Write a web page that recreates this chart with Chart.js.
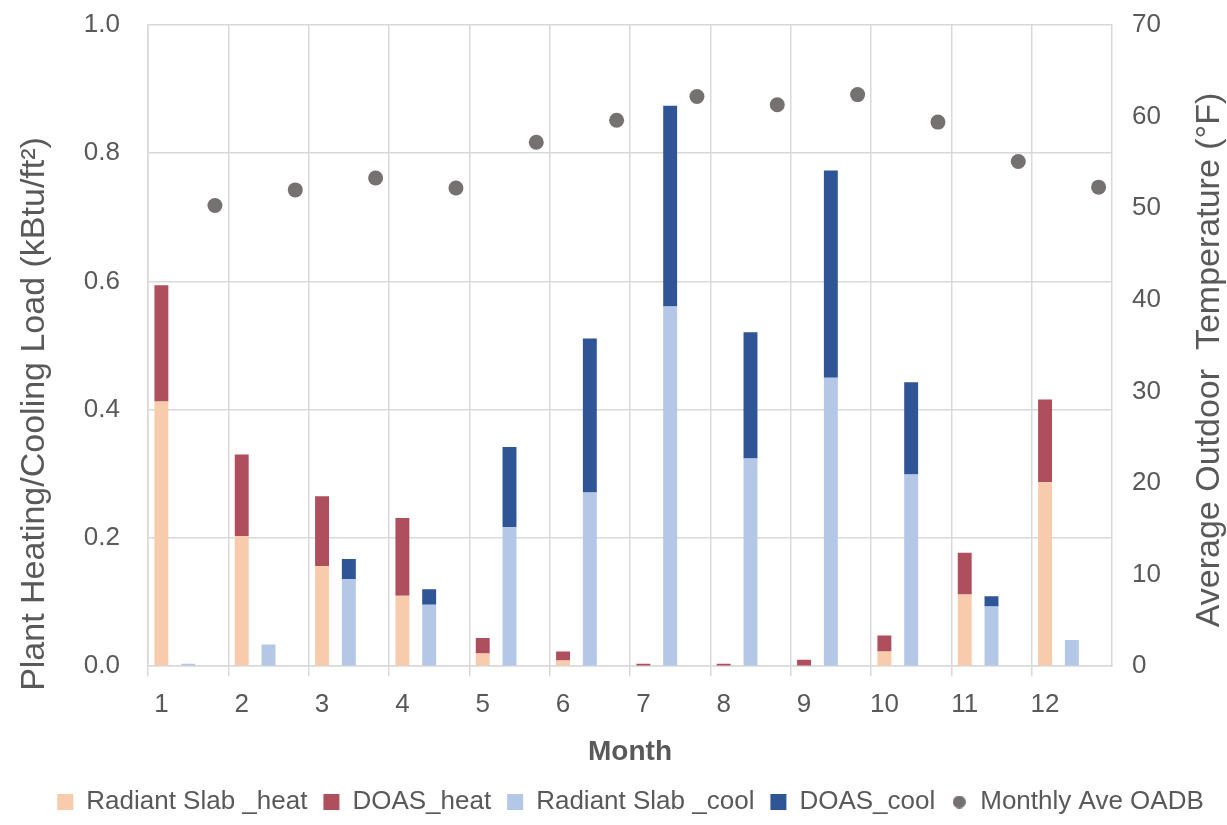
<!DOCTYPE html>
<html>
<head>
<meta charset="utf-8">
<script src="https://cdn.jsdelivr.net/npm/chart.js@4"></script>
<style>
  html, body { margin: 0; padding: 0; background: #fff; }
  #wrap { width: 1227px; height: 825px; }
</style>
</head>
<body>
<div id="wrap"><canvas id="chart" width="1227" height="825"></canvas></div>
<script>
// monthly values
const months = ["1", "2", "3", "4", "5", "6", "7", "8", "9", "10", "11", "12"];
const slabHeat = [0.413, 0.203, 0.156, 0.110, 0.020, 0.009, 0.001, 0.001, 0.001, 0.023, 0.112, 0.287];
const doasHeat = [0.181, 0.127, 0.109, 0.121, 0.024, 0.014, 0.003, 0.003, 0.009, 0.025, 0.065, 0.129];
const slabCool = [0.004, 0.034, 0.136, 0.096, 0.217, 0.271, 0.561, 0.324, 0.450, 0.299, 0.093, 0.041];
const doasCool = [0.000, 0.000, 0.031, 0.024, 0.125, 0.240, 0.313, 0.197, 0.323, 0.144, 0.016, 0.000];
const oadb = [50.3, 52.0, 53.3, 52.2, 57.2, 59.6, 62.2, 61.3, 62.4, 59.4, 55.1, 52.3];
const leftTicks = [0, 0.2, 0.4, 0.6, 0.8, 1.0];
const rightTicks = [0, 10, 20, 30, 40, 50, 60, 70];

const leftTitle = "Plant Heating/Cooling Load (kBtu/ft\u00B2)";
const rightTitle = "Average Outdoor  Temperature (\u00B0F)";

const FONT = "'Liberation Sans', Arial, sans-serif";
const TEXT = "#595959";
const GRID = "#d9d9d9";
const PAD_LEFT = 34;

// each month gets three slots: heating bar, cooling bar, temperature dot
const labels = [];
months.forEach(m => labels.push(m, "", ""));

function slot(values, pos) {
    const out = new Array(months.length * 3).fill(null);
    values.forEach((v, i) => { out[i * 3 + pos] = v; });
    return out;
}

// small round marker for the OADB legend entry
const dot = document.createElement("canvas");
dot.width = 13;
dot.height = 13;
const dctx = dot.getContext("2d");
dctx.fillStyle = "#767171";
dctx.beginPath();
dctx.arc(6.5, 6.5, 6.5, 0, Math.PI * 2);
dctx.fill();

// axis titles drawn reading bottom-to-top on both sides
const axisTitles = {
    id: "axisTitles",
    afterDraw(chart) {
        const ctx = chart.ctx;
        const area = chart.chartArea;
        ctx.save();
        ctx.fillStyle = TEXT;
        ctx.font = "34px " + FONT;
        ctx.textAlign = "center";
        ctx.textBaseline = "middle";

        ctx.save();
        ctx.translate(35, area.top + 389);
        ctx.rotate(-Math.PI / 2);
        ctx.fillText(leftTitle, 0, 0);
        ctx.restore();

        ctx.save();
        ctx.translate(1210, area.top + 335);
        ctx.rotate(-Math.PI / 2);
        ctx.fillText(rightTitle, 0, 0);
        ctx.restore();

        ctx.restore();
    }
};

const gridEvery3 = c => (c.index % 3 === 0 ? GRID : "rgba(0,0,0,0)");
const noPad = s => { s.paddingTop = 0; s.paddingBottom = 0; };

const ctx = document.getElementById("chart").getContext("2d");
new Chart(ctx, {
    type: "bar",
    data: {
        labels: labels,
        datasets: [
            { label: "Radiant Slab _heat", data: slot(slabHeat, 0), backgroundColor: "#f8cbad", stack: "s", yAxisID: "y" },
            { label: "DOAS_heat", data: slot(doasHeat, 0), backgroundColor: "#af4e5d", stack: "s", yAxisID: "y" },
            { label: "Radiant Slab _cool", data: slot(slabCool, 1), backgroundColor: "#b4c7e7", stack: "s", yAxisID: "y" },
            { label: "DOAS_cool", data: slot(doasCool, 1), backgroundColor: "#2f5597", stack: "s", yAxisID: "y" },
            {
                type: "line",
                label: "Monthly Ave OADB",
                data: slot(oadb, 2),
                yAxisID: "y2",
                showLine: false,
                pointRadius: 7.5,
                pointHoverRadius: 7.5,
                pointBackgroundColor: "#767171",
                pointBorderWidth: 0,
                backgroundColor: "#767171",
                borderColor: "#767171"
            }
        ]
    },
    options: {
        responsive: false,
        animation: false,
        events: [],
        barPercentage: 0.52,
        categoryPercentage: 1,
        layout: { padding: { top: 25, bottom: 0, left: PAD_LEFT, right: 0 } },
        plugins: {
            tooltip: { enabled: false },
            legend: {
                position: "bottom",
                labels: {
                    usePointStyle: true,
                    boxWidth: 16,
                    boxHeight: 16,
                    padding: 16,
                    color: TEXT,
                    font: { family: FONT, size: 26 },
                    generateLabels(chart) {
                        const items = Chart.defaults.plugins.legend.labels.generateLabels(chart);
                        items.forEach((it, i) => {
                            it.pointStyle = i < 4 ? "rect" : dot;
                            it.rotation = 0;
                            it.lineWidth = 0;
                        });
                        return items;
                    }
                }
            }
        },
        scales: {
            x: {
                stacked: true,
                offset: true,
                grid: {
                    offset: true,
                    color: gridEvery3,
                    tickColor: gridEvery3,
                    lineWidth: 1.5,
                    tickLength: 10
                },
                border: { color: GRID, width: 1.5 },
                ticks: {
                    autoSkip: false,
                    maxRotation: 0,
                    padding: 13,
                    color: TEXT,
                    font: { family: FONT, size: 26 }
                },
                title: {
                    display: true,
                    text: "Month",
                    color: TEXT,
                    font: { family: FONT, size: 28, weight: "bold" },
                    padding: { top: 2, bottom: 4 }
                }
            },
            y: {
                stacked: true,
                position: "left",
                min: 0,
                max: 1,
                afterBuildTicks: s => { s.ticks = leftTicks.map(v => ({ value: v })); },
                afterFit: s => { s.width = 148 - PAD_LEFT; noPad(s); },
                grid: { color: GRID, lineWidth: 1.5, drawTicks: false },
                border: { color: GRID, width: 1.5 },
                ticks: {
                    padding: 28,
                    color: TEXT,
                    font: { family: FONT, size: 26 },
                    callback: v => Number(v).toFixed(1)
                }
            },
            y2: {
                position: "right",
                min: 0,
                max: 70,
                afterBuildTicks: s => { s.ticks = rightTicks.map(v => ({ value: v })); },
                afterFit: s => { s.width = 1227 - 1112; noPad(s); },
                grid: { display: false, drawTicks: false },
                border: { display: true, color: GRID, width: 1.5 },
                ticks: {
                    padding: 20,
                    color: TEXT,
                    font: { family: FONT, size: 26 }
                }
            }
        }
    },
    plugins: [axisTitles]
});
</script>
</body>
</html>
